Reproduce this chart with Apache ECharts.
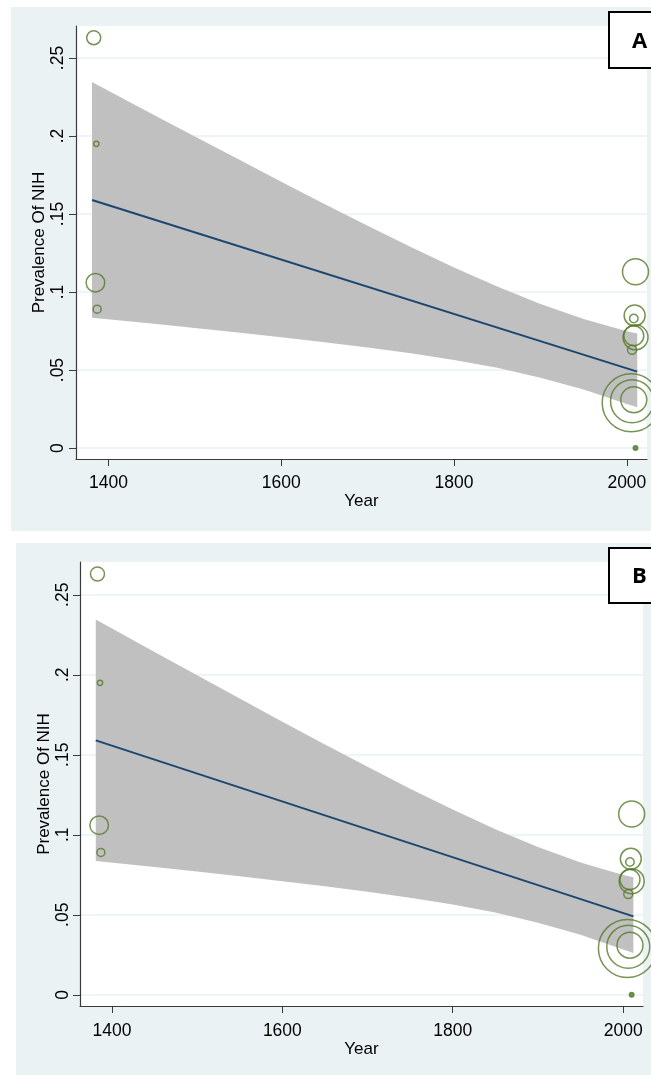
<!DOCTYPE html>
<html>
<head>
<meta charset="utf-8">
<script src="https://cdn.jsdelivr.net/npm/echarts@6/dist/echarts.min.js"></script>
<style>
html,body{margin:0;padding:0;background:#ffffff;}
#chart{width:651px;height:1075px;}
</style>
</head>
<body>
<div id="chart"></div>
<script>
// ---- data ----
const bandYears = [1381, 1450, 1500, 1550, 1600, 1650, 1700, 1750, 1800, 1850, 1900, 1950, 2000, 2012];
const bandUpper = [0.2346, 0.2143, 0.1997, 0.1852, 0.1707, 0.1565, 0.1425, 0.1288, 0.1158, 0.1035, 0.0923, 0.0827, 0.0749, 0.0734];
const bandLower = [0.0836, 0.0799, 0.0770, 0.0741, 0.0710, 0.0678, 0.0644, 0.0607, 0.0564, 0.0514, 0.0451, 0.0375, 0.0283, 0.0262];

const fitYears = [1381, 2012];
const fitValues = [0.159, 0.049];

const pointYears   = [1383, 1386, 1385, 1387, 2010, 2009, 2008, 2010, 2008, 2006, 2005, 2006, 2008, 2010];
const pointValues  = [0.263, 0.195, 0.106, 0.089, 0.113, 0.085, 0.083, 0.071, 0.072, 0.063, 0.029, 0.030, 0.031, 0.000];
const pointWeights = [49, 7, 86, 16, 169, 110, 18, 156, 100, 20, 841, 462, 169, 5];

const xTicks = [1400, 1600, 1800, 2000];
const xTickLabels = ['1400', '1600', '1800', '2000'];
const yTicks = [0, 0.05, 0.1, 0.15, 0.2, 0.25];
const yTickLabels = ['0', '.05', '.1', '.15', '.2', '.25'];
const panelLabels = ['A', 'B'];
const xTitle = 'Year';
const yTitle = 'Prevalence Of NIH';

// ---- layout / style ----
const FONT = '"Liberation Sans", Arial, sans-serif';
const PANEL_BG = '#eaf2f3';
const AXIS_COLOR = '#3a3a3a';
const MARKER = '#55792a';
const panels = [
  { bg: [11, 7, 640, 524], grid: { left: 76, top: 26, width: 571, height: 433 },
    box: [609, 12, 50, 56], label: [639.5, 42], yMargin: 9, yGap: 28, xMargin: 15, xGap: 32 },
  { bg: [16, 543, 635, 532], grid: { left: 80, top: 562, width: 563, height: 444 },
    box: [609, 548, 50, 55], label: [639.5, 577], yMargin: 8, yGap: 27, xMargin: 16, xGap: 33 }
];

const grids = [], xAxes = [], yAxes = [], series = [], graphics = [];

panels.forEach((p, i) => {
  graphics.push({ type: 'rect', z: -100, silent: true,
    shape: { x: p.bg[0], y: p.bg[1], width: p.bg[2], height: p.bg[3] },
    style: { fill: PANEL_BG } });
  graphics.push({ type: 'rect', z: 100, silent: true,
    shape: { x: p.box[0], y: p.box[1], width: p.box[2], height: p.box[3] },
    style: { fill: '#ffffff', stroke: '#000000', lineWidth: 2 } });
  graphics.push({ type: 'text', z: 101, silent: true,
    style: { text: panelLabels[i], x: p.label[0], y: p.label[1],
      align: 'center', verticalAlign: 'middle', textAlign: 'center', textVerticalAlign: 'middle',
      font: 'bold 22px "Open Sans", "Liberation Sans", sans-serif', fill: '#000000' } });

  grids.push(Object.assign({ show: true, backgroundColor: '#ffffff', borderWidth: 0, containLabel: false }, p.grid));

  xAxes.push({
    type: 'value', gridIndex: i, min: 1362.5, max: 2023.3,
    name: xTitle, nameLocation: 'middle', nameGap: p.xGap,
    nameTextStyle: { fontFamily: FONT, fontSize: 17, color: '#000' },
    axisLine: { show: true, onZero: false, lineStyle: { color: AXIS_COLOR, width: 1.2 } },
    axisTick: { show: true, customValues: xTicks, length: 7, inside: false, lineStyle: { color: AXIS_COLOR } },
    axisLabel: { customValues: xTicks, margin: p.xMargin, fontFamily: FONT, fontSize: 17.5, color: '#000',
      formatter: v => xTickLabels[xTicks.indexOf(v)] },
    splitLine: { show: false }
  });
  yAxes.push({
    type: 'value', gridIndex: i, min: -0.007, max: 0.2705,
    name: yTitle, nameLocation: 'middle', nameGap: p.yGap, nameRotate: 90, nameMoveOverlap: false,
    nameTextStyle: { fontFamily: FONT, fontSize: 17, color: '#000' },
    axisLine: { show: true, onZero: false, lineStyle: { color: AXIS_COLOR, width: 1.2 } },
    axisTick: { show: true, customValues: yTicks, length: 7, inside: false, lineStyle: { color: AXIS_COLOR } },
    axisLabel: { customValues: yTicks, rotate: 90, margin: p.yMargin, fontFamily: FONT, fontSize: 17.5, color: '#000',
      formatter: v => { const k = yTicks.findIndex(t => Math.abs(t - v) < 1e-9); return k >= 0 ? yTickLabels[k] : ''; } },
    splitLine: { show: true, lineStyle: { color: PANEL_BG, width: 1.5 } }
  });

  series.push({
    type: 'custom', xAxisIndex: i, yAxisIndex: i, silent: true, z: 1,
    data: bandYears.map((yr, k) => [yr, bandUpper[k], bandLower[k]]),
    encode: { x: 0, y: [1, 2] },
    renderItem: function (params, api) {
      if (params.dataIndex !== 0) return null;
      const pts = [];
      for (let k = 0; k < bandYears.length; k++) pts.push(api.coord([bandYears[k], bandUpper[k]]));
      for (let k = bandYears.length - 1; k >= 0; k--) pts.push(api.coord([bandYears[k], bandLower[k]]));
      return { type: 'polygon', shape: { points: pts }, style: { fill: '#c0c0c0' } };
    }
  });
  series.push({
    type: 'line', xAxisIndex: i, yAxisIndex: i, silent: true, z: 2,
    data: fitYears.map((yr, k) => [yr, fitValues[k]]),
    showSymbol: false, symbol: 'none',
    lineStyle: { color: '#1a476f', width: 2 }
  });
  series.push({
    type: 'scatter', xAxisIndex: i, yAxisIndex: i, silent: true, z: 3, clip: false,
    data: pointYears.map((yr, k) => [yr, pointValues[k], pointWeights[k]]),
    symbol: 'circle',
    symbolSize: v => 2 * Math.sqrt(v[2]),
    itemStyle: {
      color: params => (params.value[2] < 6 ? MARKER : 'rgba(0,0,0,0)'),
      borderColor: MARKER, borderWidth: 1.5
    }
  });
});

const chart = echarts.init(document.getElementById('chart'), null, { renderer: 'canvas' });
chart.setOption({
  backgroundColor: '#ffffff',
  animation: false,
  grid: grids,
  xAxis: xAxes,
  yAxis: yAxes,
  series: series,
  graphic: { elements: graphics }
});
</script>
</body>
</html>
